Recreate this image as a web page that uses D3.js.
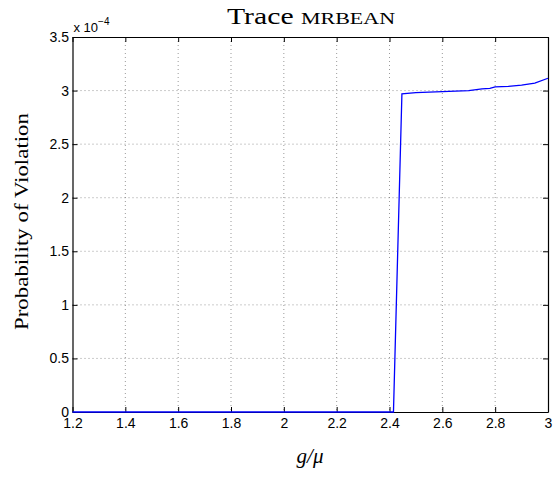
<!DOCTYPE html>
<html>
<head>
<meta charset="utf-8">
<script src="https://cdn.jsdelivr.net/npm/d3@7"></script>
<style>
  body { margin: 0; background: #fff; }
  svg text { fill: #000; }
</style>
</head>
<body>
<div id="chart"></div>
<script>
// g/mu values and violation probabilities (x 1e-4)
const gValues = [1.2, 2.415, 2.447, 2.5, 2.6, 2.7, 2.75, 2.78, 2.8, 2.85, 2.9, 2.95, 3.0];
const probValues = [0, 0, 2.97, 2.98, 2.99, 3.0, 3.015, 3.02, 3.035, 3.04, 3.05, 3.07, 3.115];
const xTicks = [1.2, 1.4, 1.6, 1.8, 2, 2.2, 2.4, 2.6, 2.8, 3];
const yTicks = [0, 0.5, 1, 1.5, 2, 2.5, 3, 3.5];

function generateChart() {
  const width = 557, height = 477;
  const left = 72.5, right = 548, top = 37, bottom = 412;

  const svg = d3.select("#chart").append("svg")
    .attr("width", width).attr("height", height);

  const x = d3.scaleLinear().domain([1.2, 3]).range([left, right]);
  const y = d3.scaleLinear().domain([0, 3.5]).range([bottom, top]);

  // grid
  svg.append("g").selectAll("line").data(xTicks.slice(1, -1)).enter().append("line")
    .attr("x1", d => x(d)).attr("x2", d => x(d))
    .attr("y1", top).attr("y2", bottom)
    .attr("stroke", "#555").attr("stroke-width", 0.6).attr("stroke-dasharray", "1,3");
  svg.append("g").selectAll("line").data(yTicks.slice(1, -1)).enter().append("line")
    .attr("x1", left).attr("x2", right)
    .attr("y1", d => y(d)).attr("y2", d => y(d))
    .attr("stroke", "#555").attr("stroke-width", 0.6).attr("stroke-dasharray", "1,3");

  // axes with inward ticks
  const font = "Liberation Sans, Arial, sans-serif";
  const xAxis = svg.append("g").attr("transform", `translate(0,${bottom})`)
    .call(d3.axisBottom(x).tickValues(xTicks).tickSizeInner(-5).tickSizeOuter(0).tickFormat(d3.format("")));
  xAxis.selectAll("text").attr("y", 5).attr("dy", "0.75em").attr("font-size", 14).attr("font-family", font);
  const yAxis = svg.append("g").attr("transform", `translate(${left},0)`)
    .call(d3.axisLeft(y).tickValues(yTicks).tickSizeInner(-5).tickSizeOuter(0).tickFormat(d3.format("")));
  yAxis.selectAll("text").attr("x", -3.5).attr("font-size", 14).attr("font-family", font);
  svg.append("g").attr("transform", `translate(0,${top})`)
    .call(d3.axisTop(x).tickValues(xTicks).tickSizeInner(-5).tickSizeOuter(0).tickFormat(""));
  svg.append("g").attr("transform", `translate(${right},0)`)
    .call(d3.axisRight(y).tickValues(yTicks).tickSizeInner(-5).tickSizeOuter(0).tickFormat(""));
  svg.selectAll(".domain").attr("stroke", "#000").attr("stroke-width", 1.2);
  svg.selectAll(".tick line").attr("stroke", "#000");

  // data line
  const pts = gValues.map((g, i) => [g, probValues[i]]);
  svg.append("path").datum(pts)
    .attr("fill", "none").attr("stroke", "#0000ff").attr("stroke-width", 1.3)
    .attr("d", d3.line().x(d => x(d[0])).y(d => y(d[1])));

  // exponent label
  const exp = svg.append("text").attr("x", left + 1).attr("y", top - 5)
    .attr("font-family", font).attr("font-size", 13);
  exp.append("tspan").text("x 10");
  exp.append("tspan").attr("dy", -7).attr("font-size", 10).text("\u22124");

  // title
  const serif = "Liberation Serif, DejaVu Serif, serif";
  const title = svg.append("text").attr("x", 311).attr("y", 24)
    .attr("text-anchor", "middle").attr("font-family", serif).attr("font-size", 23)
    .attr("textLength", 168).attr("lengthAdjust", "spacingAndGlyphs");
  title.append("tspan").text("Trace ");
  title.append("tspan").attr("font-size", 17).text("MRBEAN");

  // axis labels
  svg.append("text").attr("x", 310).attr("y", 463)
    .attr("text-anchor", "middle").attr("font-family", serif).attr("font-size", 21)
    .attr("font-style", "italic")
    .text("g/\u03bc");

  svg.append("text")
    .attr("transform", `translate(28,${(113 + 330) / 2}) rotate(-90)`)
    .attr("text-anchor", "middle").attr("font-family", serif).attr("font-size", 18)
    .attr("textLength", 217).attr("lengthAdjust", "spacingAndGlyphs")
    .text("Probability of Violation");
}

generateChart();
</script>
</body>
</html>
